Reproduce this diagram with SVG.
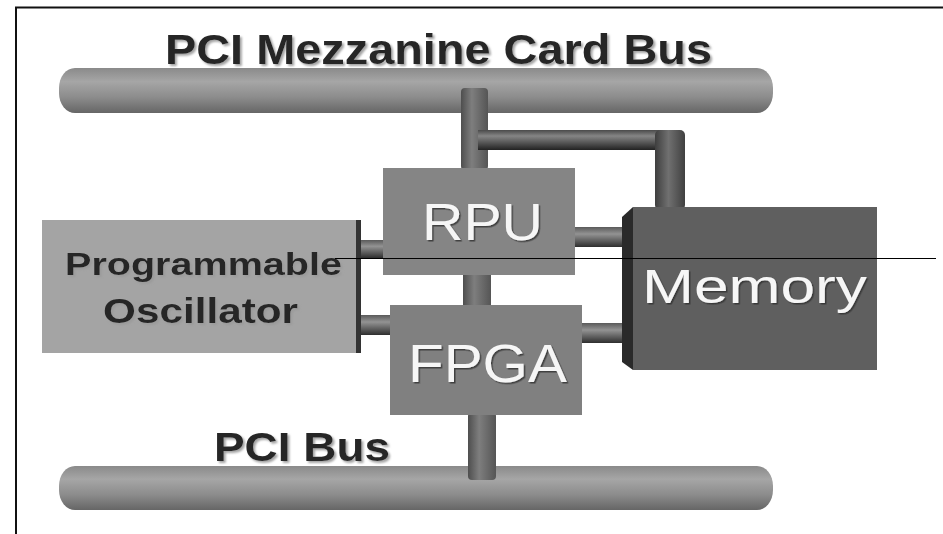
<svg xmlns="http://www.w3.org/2000/svg" width="943" height="534" viewBox="0 0 943 534">
  <defs>
    <linearGradient id="busGrad" x1="0" y1="0" x2="0" y2="1">
      <stop offset="0" stop-color="#8a8a8a"/>
      <stop offset="0.3" stop-color="#a6a6a6"/>
      <stop offset="0.65" stop-color="#8c8c8c"/>
      <stop offset="1" stop-color="#666666"/>
    </linearGradient>
    <linearGradient id="vGrad" x1="0" y1="0" x2="1" y2="0">
      <stop offset="0" stop-color="#4e4e4e"/>
      <stop offset="0.4" stop-color="#7e7e7e"/>
      <stop offset="1" stop-color="#555555"/>
    </linearGradient>
    <linearGradient id="hGrad" x1="0" y1="0" x2="0" y2="1">
      <stop offset="0" stop-color="#5a5a5a"/>
      <stop offset="0.35" stop-color="#939393"/>
      <stop offset="1" stop-color="#2e2e2e"/>
    </linearGradient>
    <linearGradient id="loopV" x1="0" y1="0" x2="1" y2="0">
      <stop offset="0" stop-color="#3e3e3e"/>
      <stop offset="0.45" stop-color="#707070"/>
      <stop offset="1" stop-color="#404040"/>
    </linearGradient>
    <linearGradient id="loopH" x1="0" y1="0" x2="0" y2="1">
      <stop offset="0" stop-color="#4a4a4a"/>
      <stop offset="0.3" stop-color="#858585"/>
      <stop offset="1" stop-color="#222222"/>
    </linearGradient>
    <filter id="darkShadow" x="-5%" y="-20%" width="110%" height="140%">
      <feDropShadow dx="2" dy="2" stdDeviation="0.8" flood-color="#9a9a9a" flood-opacity="0.9"/>
    </filter>
    <filter id="lightShadow" x="-5%" y="-20%" width="110%" height="140%">
      <feDropShadow dx="1.5" dy="1.5" stdDeviation="0.6" flood-color="#333333" flood-opacity="0.8"/>
    </filter>
    <style>
      .dark { font-family: "Liberation Sans", Arial, sans-serif; font-weight: bold; fill: #262626; filter: url(#darkShadow); }
      .light { font-family: "Liberation Sans", Arial, sans-serif; fill: #f6f6f6; filter: url(#lightShadow); }
      .bus { fill: url(#busGrad); }
      .vbar { fill: url(#vGrad); }
      .hbar { fill: url(#hGrad); }
    </style>
  </defs>

  <rect width="943" height="534" fill="#ffffff"/>
  <!-- frame (top and left edges) -->
  <path d="M16,534 V7.5 H943" fill="none" stroke="#111111" stroke-width="2"/>

  <g id="pci-mezzanine-bus">
    <rect class="bus" x="59" y="68" width="714" height="45" rx="16" ry="20"/>
    <text class="dark" x="165" y="64" font-size="43" textLength="547" lengthAdjust="spacingAndGlyphs">PCI Mezzanine Card Bus</text>
  </g>

  <g id="pci-bus">
    <rect class="bus" x="59" y="466" width="714" height="44" rx="16" ry="20"/>
    <text class="dark" x="214" y="461" font-size="40" textLength="176" lengthAdjust="spacingAndGlyphs">PCI Bus</text>
  </g>

  <g id="connectors">
    <!-- main vertical bus link -->
    <rect class="vbar" x="461" y="88" width="27" height="82" rx="4"/>
    <rect class="vbar" x="463" y="272" width="28" height="36"/>
    <rect class="vbar" x="468" y="412" width="28" height="68" rx="4"/>
    <!-- loop to memory -->
    <rect x="478" y="130" width="200" height="20" fill="url(#loopH)"/>
    <rect x="655" y="130" width="30" height="80" rx="5" fill="url(#loopV)"/>
    <!-- oscillator links -->
    <rect class="hbar" x="360" y="240" width="25" height="18"/>
    <rect class="hbar" x="360" y="315" width="32" height="20"/>
    <!-- memory links -->
    <rect class="hbar" x="573" y="227" width="54" height="20"/>
    <rect class="hbar" x="580" y="323" width="46" height="20"/>
  </g>

  <g id="oscillator">
    <rect x="42" y="220" width="316" height="133" fill="#a4a4a4"/>
    <rect x="356" y="220" width="5" height="133" fill="#333333"/>
    <text class="dark" x="65" y="275" font-size="32" textLength="277" lengthAdjust="spacingAndGlyphs">Programmable</text>
    <text class="dark" x="103" y="323" font-size="35" textLength="195" lengthAdjust="spacingAndGlyphs">Oscillator</text>
  </g>

  <g id="rpu">
    <rect x="383" y="168" width="192" height="107" fill="#858585"/>
    <text class="light" x="422" y="240" font-size="51" textLength="121" lengthAdjust="spacingAndGlyphs">RPU</text>
  </g>

  <g id="fpga">
    <rect x="390" y="305" width="192" height="110" fill="#808080"/>
    <text class="light" x="408" y="382" font-size="54" textLength="159" lengthAdjust="spacingAndGlyphs">FPGA</text>
  </g>

  <g id="memory">
    <polygon points="622,217 633,207 633,370 622,362" fill="#2a2a2a"/>
    <rect x="633" y="207" width="244" height="163" fill="#5f5f5f"/>
    <text class="light" x="642" y="303" font-size="49" textLength="225" lengthAdjust="spacingAndGlyphs">Memory</text>
  </g>

  <line id="marker-line" x1="335" y1="258.5" x2="936" y2="258.5" stroke="#000000" stroke-width="1"/>
</svg>
